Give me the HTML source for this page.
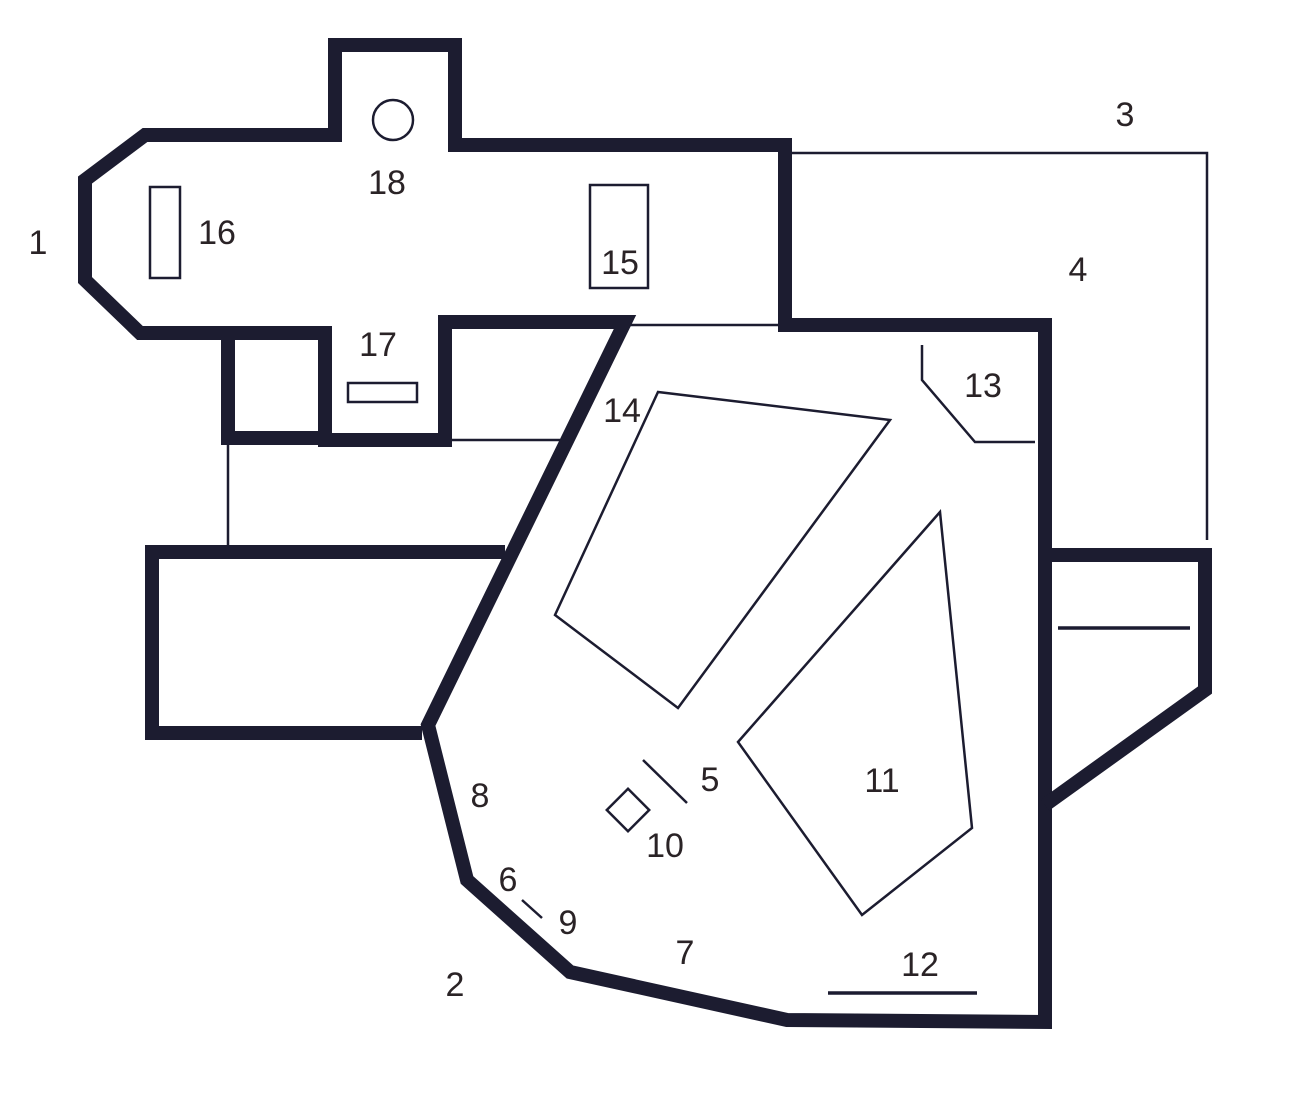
<!DOCTYPE html>
<html><head><meta charset="utf-8"><style>
html,body{margin:0;padding:0;background:#fff;}
svg{display:block;}
text{font-family:"Liberation Sans",sans-serif;font-size:34px;fill:#2a2326;text-anchor:middle;dominant-baseline:middle;}
</style></head><body>
<svg width="1310" height="1097" viewBox="0 0 1310 1097" xmlns="http://www.w3.org/2000/svg">
<rect width="1310" height="1097" fill="#fff"/>
<g fill="none" stroke="#1c1c30" stroke-linejoin="miter">
<g stroke-width="14">
<path d="M145,135 L335,135 L335,45 L455,45 L455,145 L785,145 L785,325 L1045,325 L1045,1022 L787,1020 L570,972 L467,880 L428,725 L625,322 L445,322 L445,440 L325,440 L325,333 L140,333 L85,280 L85,180 Z"/>
<path d="M228,333 L228,438 L325,438"/>
<path d="M505,552 L152,552 L152,733 L422,733"/>
<path d="M1045,555 L1205,555 L1205,690 L1045,805"/>
</g>
<g stroke-width="2.5">
<path d="M785,153 L1207,153 L1207,540"/>
<path d="M628,325 L785,325"/>
<path d="M228,440 L228,545"/>
<path d="M450,440 L560,440"/>
<path d="M922,345 L922,380 L975,442 L1035,442"/>
<path d="M555,615 L658,392 L890,420 L678,708 Z"/>
<path d="M738,742 L940,512 L972,828 L862,915 Z"/>
<rect x="150" y="187" width="30" height="91"/>
<rect x="590" y="185" width="58" height="103"/>
<rect x="348" y="383" width="69" height="19"/>
<circle cx="393" cy="120" r="20"/>
<path d="M643,760 L687,803"/>
<rect x="613" y="795" width="30" height="30" transform="rotate(45 628 810)"/>
<path d="M522,900 L542,918"/>
</g>
<path d="M1058,628 L1190,628" stroke-width="3.5"/>
<path d="M828,993 L977,993" stroke-width="3.5"/>
</g>
<text x="38" y="245">1</text>
<text x="455" y="987">2</text>
<text x="1125" y="117">3</text>
<text x="1078" y="272">4</text>
<text x="710" y="782">5</text>
<text x="508" y="882">6</text>
<text x="685" y="955">7</text>
<text x="480" y="798">8</text>
<text x="568" y="925">9</text>
<text x="665" y="848">10</text>
<text x="882" y="783">11</text>
<text x="920" y="967">12</text>
<text x="983" y="388">13</text>
<text x="622" y="413">14</text>
<text x="620" y="265">15</text>
<text x="217" y="235">16</text>
<text x="378" y="347">17</text>
<text x="387" y="185">18</text>
</svg>
</body></html>
